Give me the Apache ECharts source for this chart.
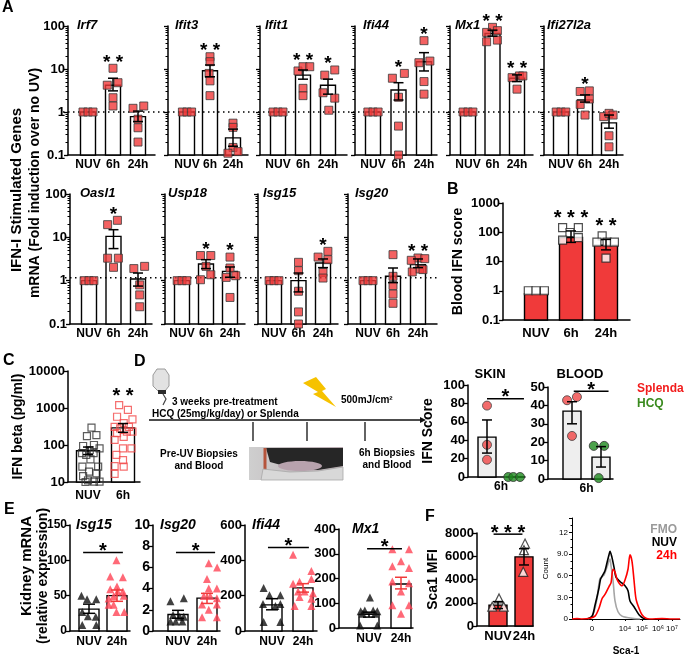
<!DOCTYPE html>
<html>
<head>
<meta charset="utf-8">
<script src="https://cdn.jsdelivr.net/npm/echarts@6/dist/echarts.min.js"></script>
<style>
  html, body { margin: 0; padding: 0; background: #fff; }
  #c { width: 685px; height: 657px; }
</style>
</head>
<body>
<div id="c"></div>
<script>
// ---------- data ----------
// A: ISG fold induction (log), groups NUV / 6h / 24h
const aGenes = ['Irf7', 'Ifit3', 'Ifit1', 'Ifi44', 'Mx1', 'Ifi27l2a', 'Oasl1', 'Usp18', 'Isg15', 'Isg20'];
const aGroups = ['NUV', '6h', '24h'];
const aMeans = [[1, 4.2, 0.78], [1, 9.1, 0.25], [1, 7.2, 4.2], [1, 3.25, 14.8], [1, 67, 6.1],
                [1, 1.9, 0.56], [1, 10.5, 1.09], [1, 2.43, 1.64], [1, 1.0, 2.56], [1, 1.26, 2.34]];
const aErr = [
  [[1, 1], [3.1, 6.1], [0.6, 1.05]], [[1, 1], [6.6, 12.4], [0.16, 0.4]], [[1, 1], [5.8, 9.5], [2.6, 5.8]],
  [[1, 1], [1.9, 4.8], [9, 24]], [[1, 1], [58, 80], [5.1, 7.3]], [[1, 1], [1.7, 2.5], [0.42, 0.85]],
  [[1, 1], [5.5, 15], [0.75, 1.5]], [[1, 1], [1.9, 3.05], [1.2, 2.07]], [[1, 1], [0.55, 1.5], [2.0, 3.17]],
  [[1, 1], [0.9, 1.96], [2.0, 3.17]]
];
const aNuvPts = [[-0.2, 1], [0, 1], [0.2, 1]];
// [x offset, value] per animal, for 6h and 24h
const a6hPts = [
  [[0, 10.4], [-0.23, 4.2], [0.2, 4.8], [0, 2.15], [0, 1.38]],
  [[0, 19.3], [0, 14.8], [-0.04, 7.9], [0, 5.3], [0, 2.4]],
  [[-0.2, 9], [0, 11.3], [0.27, 11.3], [0, 3.55], [0, 2.4]],
  [[-0.24, 6.1], [0.23, 7.9], [0, 2.2], [0, 0.47], [0, 0.1]],
  [[0, 93], [-0.24, 71], [0.2, 78], [-0.24, 43], [0.2, 47]],
  [[-0.2, 3.0], [0.18, 3.1], [-0.2, 1.5], [0.18, 2.0], [0, 0.85]],
  [[0.16, 24.7], [-0.24, 19.6], [-0.24, 3.3], [0.2, 3.3], [0, 2.03]],
  [[-0.23, 3.8], [0.2, 3.8], [0, 2.14], [-0.23, 1.05], [0.2, 1.37]],
  [[0, 2.65], [0, 1.7], [0, 0.57], [0, 0.19], [0, 0.1]],
  [[0, 3.98], [0, 1.26], [0, 0.77], [0, 0.49], [0, 0.3]]
];
const a24hPts = [
  [[-0.2, 1.22], [0.23, 1.38], [0, 0.68], [0, 0.43], [0, 0.2]],
  [[0, 0.55], [0, 0.44], [0, 0.15], [-0.22, 0.11], [0.22, 0.12]],
  [[-0.13, 7.2], [0.27, 9.5], [-0.2, 2.8], [0.27, 2.1], [0.03, 1.1]],
  [[0, 45.6], [-0.2, 14], [0.23, 15.3], [0, 5.1], [0, 2.6]],
  [[-0.2, 6.3], [0.1, 6.9], [0.24, 6.9], [0, 3.4]],
  [[-0.22, 0.78], [0, 0.93], [0.17, 0.85], [0, 0.28], [0, 0.155]],
  [[-0.17, 1.9], [0.27, 2.14], [0.07, 0.8], [0.07, 0.47], [0.07, 0.25]],
  [[0, 3.5], [0, 1.96], [-0.16, 1.19], [0.24, 1.3], [0, 0.41]],
  [[-0.2, 3.5], [0.2, 4.75], [0.2, 3.05], [0, 1.55], [0, 1.15]],
  [[0, 3.34], [0.27, 3.22], [-0.27, 2.95], [0.07, 1.86], [-0.23, 1.59], [0.2, 1.8]]
];
const aStars = [['', '* *', ''], ['', '* *', ''], ['', '* *', '*'], ['', '*', '*'], ['', '* *', '* *'],
                ['', '*', ''], ['', '*', ''], ['', '*', '*'], ['', '', '*'], ['', '', '* *']];
const aRefLines = [1, 1.17];   // dotted baseline per row

// B: blood IFN score
const bMeans = [0.8, 66, 36];
const bErr = [[0.8, 0.8], [45, 111], [25, 57]];
const bPts = [
  [[-0.22, 1], [0, 1], [0.24, 1]],
  [[-0.24, 145], [-0.03, 98], [0.21, 145], [-0.24, 54], [0.21, 66]],
  [[-0.11, 75], [-0.26, 46], [0.03, 46], [0.24, 46], [0, 13]]
];
const bStars = ['', '* * *', '* *'];

// C: IFN beta (pg/ml)
const cGroups = ['NUV', '6h'];
const cMeans = [70, 290];
const cErr = [[55, 88], [220, 380]];
const cNuvPts = [[0.1, 295], [-0.03, 174], [0.24, 186], [-0.14, 94], [0.17, 100], [0.05, 73], [0.33, 81],
  [-0.17, 60], [-0.05, 54], [0.16, 60], [0.07, 41], [-0.16, 26], [0.29, 26], [0.03, 19], [0.24, 17],
  [-0.14, 14.5], [0, 11], [0.17, 10.2], [0.33, 10.2], [-0.07, 10]];
const c6hPts = [[-0.11, 1200], [0.14, 890], [-0.17, 580], [0.27, 490], [0.02, 390], [-0.24, 310], [0.17, 310],
  [-0.08, 280], [0.11, 230], [-0.17, 210], [0.27, 230], [0.02, 166], [-0.24, 137], [0, 81], [0.24, 81],
  [-0.19, 54], [0, 39], [-0.24, 27], [0.02, 26], [-0.24, 16.5]];

// D: IFN score, Splenda vs HCQ at 6h
const dGroups = ['Splenda', 'HCQ'];
const dSkinMeans = [43.3, 0];
const dSkinErr = [[26, 62], [0, 0]];
const dSkinPts = [[[0, 77.6], [0, 35], [0, 18.8]], [[-0.24, 0], [-0.06, 0], [0.18, 0]]];
const dBloodMeans = [36.9, 11.9];
const dBloodErr = [[30, 42], [6.5, 17.6]];
const dBloodPts = [[[-0.17, 42.8], [0.17, 44.6], [0, 23.4]], [[-0.25, 18], [0.11, 18], [-0.08, 0.5]]];
const dSig = [[1, 2.32, 85], [1.06, 2.26, 47.7]];

// E: kidney mRNA
const eGenes = ['Isg15', 'Isg20', 'Ifi44', 'Mx1'];
const eGroups = ['NUV', '24h'];
const eMeans = [[31, 50], [1.55, 3.1], [148, 244], [55, 178]];
const eErr = [[[25, 38], [42, 58]], [[1.2, 1.95], [2.6, 3.55]], [[120, 183], [220, 268]], [[44, 64], [158, 205]]];
const eNuvPts = [
  [[-0.27, 50], [-0.07, 45], [0.26, 45], [-0.24, 27], [-0.04, 21], [0.24, 20], [-0.24, 8.5], [0.26, 8.5]],
  [[-0.26, 2.8], [0.2, 3.1], [-0.17, 1.5], [0.06, 1.35], [0.2, 1.35], [-0.26, 0.9], [-0.08, 0.9], [0.15, 0.9]],
  [[-0.27, 244], [-0.08, 203], [0.27, 203], [-0.29, 153], [0.11, 142], [0.27, 153], [-0.27, 51], [0.27, 51]],
  [[0.03, 123], [-0.26, 68], [-0.13, 71], [0.13, 71], [0.26, 68], [-0.2, 58], [0.19, 58], [-0.28, 10], [0.26, 10]]
];
const e24hPts = [
  [[-0.02, 100], [-0.24, 77], [0.21, 76], [-0.24, 59], [0, 63], [0.02, 56], [0.21, 56], [-0.3, 46], [-0.12, 49],
   [0.24, 50], [-0.3, 37], [-0.12, 37], [-0.02, 27], [0.26, 27]],
  [[0.06, 6.4], [0.35, 6.0], [0, 4.9], [0.34, 4.0], [0.06, 4.0], [-0.11, 3.3], [0.11, 3.3], [0.34, 3.1],
   [-0.17, 2.5], [0.34, 2.5], [-0.17, 1.3], [0.34, 1.3], [0.06, 2.0]],
  [[-0.32, 431], [0.27, 340], [-0.32, 268], [-0.11, 279], [0.27, 295], [-0.16, 224], [0.05, 224], [0.32, 214],
   [-0.11, 193], [0.27, 183], [-0.27, 142], [0.27, 142]],
  [[-0.27, 318], [0.25, 318], [0, 270], [-0.27, 249], [0.25, 242], [-0.27, 188], [0.25, 181], [0, 147],
   [-0.27, 92], [0.25, 92], [0, 58]]
];
const eSig = [[0.79, 2.21, 111], [0.93, 2.28, 7.4], [0.87, 2.19, 472], [0.94, 2.03, 320]];
const eTicks = [[0, 150, 50], [0, 10, 2], [0, 600, 200], [0, 400, 100]];

// F: Sca1 MFI and histogram
const fMeans = [1800, 5950];
const fErr = [[1500, 2100], [5250, 6650]];
const fPts = [[[0.04, 2370], [-0.22, 1660], [0.22, 1660]], [[0.04, 7090], [0, 6520], [-0.03, 4660]]];
const fSig = [0.83, 1.94, 7900];
const histTickPos = [20, 53, 70, 86, 100];
const histTickLabels = ['0', '10⁴', '10⁵', '10⁶', '10⁷'];
const histFMO = [[16, 0], [20, 0.4], [22, 1.0], [25, 2.8], [28, 5.6], [32, 6.1], [35, 7.2], [38, 8.3], [39, 7.4],
  [41, 5.4], [43, 2.5], [46, 1.0], [50, 0.4], [55, 0.2], [62, 0.05], [68, 0]];
const histNUV = [[15, 0], [20, 0.35], [23, 1.9], [27, 4.3], [28.5, 5.5], [30, 5.9], [33, 6.7], [35, 7.8],
  [37, 8.9], [38, 9.4], [40, 8.5], [42, 7.2], [44, 5.8], [48, 5.2], [53, 4.6], [56, 3.9], [58, 2.5],
  [62, 1.7], [67, 0.6], [72, 0.05], [75, 0]];
const hist24h = [[0, 0], [5, 0.05], [10, 0], [18, 0.1], [23, 0.4], [27, 1.5], [30, 2.8], [33, 3.4], [37, 4.5],
  [39, 5.0], [41, 6.9], [43, 6.5], [45, 5.5], [47, 5.0], [50, 4.6], [53, 5.4], [56, 6.9], [58, 8.9], [60, 8.0],
  [62, 5.4], [64, 2.8], [67, 1.5], [70, 0.6], [74, 0.1], [78, 0], [90, 0.05], [100, 0], [108, 0]];

// ---------- helpers ----------
const FONT = '"Liberation Sans", Arial, Helvetica, sans-serif';
const RED = '#f03a3a';
const grids = [], xAxes = [], yAxes = [], series = [], graphics = [];

function addPanel(o) {
  const gi = grids.length;
  grids.push({ left: o.left, top: o.top, width: o.right - o.left, height: o.bottom - o.top });
  const xMin = 1 - (o.c1 - o.left) / o.sp;
  const xMax = xMin + (o.right - o.left) / o.sp;
  xAxes.push({
    gridIndex: gi, type: 'value', min: xMin, max: xMax,
    axisLine: { onZero: false, lineStyle: { color: '#000', width: 1.5 } },
    axisTick: { show: false }, splitLine: { show: false },
    axisLabel: {
      customValues: o.labelPos,
      formatter: v => o.labels[o.labelPos.findIndex(p => Math.abs(p - v) < 1e-6)] || '',
      color: '#000', fontFamily: FONT, fontWeight: 'bold', fontSize: o.xFont || 12, margin: o.xMargin || 4
    }
  });
  const y = {
    gridIndex: gi, type: o.log ? 'log' : 'value', min: o.yMin, max: o.yMax,
    axisLine: { show: true, onZero: false, lineStyle: { color: '#000', width: 1.5 } },
    axisTick: { show: true, length: 4, lineStyle: { color: '#000', width: 1.3 } },
    minorTick: { show: !!o.minor, splitNumber: o.minor || 5, length: 2.5, lineStyle: { color: '#000' } },
    splitLine: { show: false },
    axisLabel: {
      show: o.yLabels !== false, color: '#000', fontFamily: FONT, fontWeight: 'bold',
      fontSize: o.yFont || 12, margin: 3, formatter: v => String(+v.toPrecision(6))
    }
  };
  if (o.log) y.logBase = 10; else y.interval = o.yInt;
  if (o.yName) {
    y.name = o.yName; y.nameLocation = 'middle'; y.nameGap = o.nameGap;
    y.nameTextStyle = { color: '#000', fontFamily: FONT, fontWeight: 'bold', fontSize: o.nameSize || 13 };
  }
  yAxes.push(y);
  return gi;
}

function bars(gi, data, base, width, fill, stroke) {
  return {
    type: 'custom', xAxisIndex: gi, yAxisIndex: gi, z: 2, silent: true, data,
    renderItem: (p, api) => {
      const a = api.coord([api.value(0), api.value(1)]);
      const b = api.coord([api.value(0), base]);
      return { type: 'rect', shape: { x: a[0] - width / 2, y: a[1], width, height: b[1] - a[1] },
               style: { fill, stroke: stroke || '#000', lineWidth: 1.4 } };
    }
  };
}

function errBars(gi, data, color, cap) {
  return {
    type: 'custom', xAxisIndex: gi, yAxisIndex: gi, z: 6, silent: true,
    data: data.filter(d => d[1] !== d[2]),
    renderItem: (p, api) => {
      const x = api.value(0);
      const lo = api.coord([x, api.value(1)]), hi = api.coord([x, api.value(2)]);
      const h = cap / 2, st = { stroke: color, lineWidth: 1.5 };
      return { type: 'group', children: [
        { type: 'line', shape: { x1: lo[0], y1: lo[1], x2: hi[0], y2: hi[1] }, style: st },
        { type: 'line', shape: { x1: hi[0] - h, y1: hi[1], x2: hi[0] + h, y2: hi[1] }, style: st },
        { type: 'line', shape: { x1: lo[0] - h, y1: lo[1], x2: lo[0] + h, y2: lo[1] }, style: st }
      ] };
    }
  };
}

function points(gi, x, pts, symbol, size, style) {
  return {
    type: 'scatter', xAxisIndex: gi, yAxisIndex: gi, z: 5, silent: true, clip: false,
    symbol, symbolSize: size, itemStyle: style, data: pts.map(p => [x + p[0], p[1]])
  };
}

// star labels at [x, value], text shifted up by dy pixels
function stars(gi, items, size, dy) {
  return {
    type: 'custom', xAxisIndex: gi, yAxisIndex: gi, z: 7, silent: true,
    data: items.map(d => [d[0], d[1]]),
    renderItem: (p, api) => {
      const c = api.coord([api.value(0), api.value(1)]);
      return { type: 'text', x: c[0], y: c[1] - dy,
               style: { text: items[p.dataIndex][2], font: `bold ${size}px ${FONT}`, fill: '#000',
                        align: 'center', verticalAlign: 'middle' } };
    }
  };
}

// significance bar from x1 to x2 at value v
function sigBar(gi, sig, text, size) {
  return {
    type: 'custom', xAxisIndex: gi, yAxisIndex: gi, z: 7, silent: true,
    data: [[sig[0], sig[2], sig[1]]],
    renderItem: (p, api) => {
      const a = api.coord([api.value(0), api.value(1)]), b = api.coord([api.value(2), api.value(1)]);
      return { type: 'group', children: [
        { type: 'line', shape: { x1: a[0], y1: a[1], x2: b[0], y2: b[1] }, style: { stroke: '#000', lineWidth: 1.5 } },
        { type: 'text', x: (a[0] + b[0]) / 2, y: a[1] - 1,
          style: { text, font: `bold ${size}px ${FONT}`, fill: '#000', align: 'center', verticalAlign: 'middle' } }
      ] };
    }
  };
}

// dotted baseline spanning a whole row of panels (pixel extent, value through the axis)
function refLine(gi, val, x0, x1) {
  return {
    type: 'custom', xAxisIndex: gi, yAxisIndex: gi, z: 3, silent: true, data: [[1, val]],
    renderItem: (p, api) => {
      const y = api.coord([1, api.value(1)])[1];
      return { type: 'line', shape: { x1: x0, y1: y, x2: x1, y2: y },
               style: { stroke: '#000', lineWidth: 1.6, lineDash: [1.5, 3.5] } };
    }
  };
}

function txt(x, y, text, font, opts) {
  const o = opts || {};
  return { type: 'text', x, y, rotation: o.rot || 0, z: 10, silent: true,
    style: { text, font: font + ' ' + FONT, fill: o.color || '#000',
             align: o.align || 'left', verticalAlign: o.va || 'middle',
             textAlign: o.align || 'left', textVerticalAlign: o.va || 'middle' } };
}

// ---------- panel A ----------
const aLayout = [
  { left: 68, right: 155, c1: 88, sp: 25, top: 26, bottom: 155, tx: 77 },
  { left: 168, right: 248, c1: 187, sp: 23, top: 26, bottom: 155, tx: 175 },
  { left: 260, right: 347, c1: 278, sp: 25, top: 26, bottom: 155, tx: 265 },
  { left: 355, right: 437, c1: 373, sp: 25.5, top: 26, bottom: 155, tx: 363 },
  { left: 450, right: 533, c1: 468, sp: 24.5, top: 26, bottom: 155, tx: 455 },
  { left: 544, right: 623, c1: 561, sp: 24, top: 26, bottom: 155, tx: 547 },
  { left: 70, right: 152, c1: 89, sp: 24.5, top: 194, bottom: 324, tx: 80 },
  { left: 165, right: 245, c1: 182, sp: 24, top: 194, bottom: 324, tx: 168 },
  { left: 258, right: 338, c1: 274, sp: 24.5, top: 194, bottom: 324, tx: 263 },
  { left: 348, right: 437, c1: 368, sp: 25, top: 194, bottom: 324, tx: 355 }
];
const aSq = { color: RED, borderColor: '#3a3a3a', borderWidth: 1 };
aGenes.forEach((g, i) => {
  const L = aLayout[i];
  const gi = addPanel(Object.assign({}, L, {
    log: true, yMin: 0.1, yMax: 100, minor: 9, yLabels: (i === 0 || i === 6), yFont: 13,
    labelPos: [1, 2, 3], labels: aGroups, xMargin: 4, xFont: 12
  }));
  series.push(bars(gi, aMeans[i].map((m, k) => [k + 1, m]), 0.1, 15, '#fff'));
  series.push(errBars(gi, aErr[i].map((e, k) => [k + 1, e[0], e[1]]), '#000', 10));
  [aNuvPts, a6hPts[i], a24hPts[i]].forEach((pts, k) => series.push(points(gi, k + 1, pts, 'rect', 8, aSq)));
  const tops = [aNuvPts, a6hPts[i], a24hPts[i]].map((pts, k) => Math.max(aErr[i][k][1], ...pts.map(p => p[1])));
  series.push(stars(gi, aStars[i].map((s, k) => [k + 1, tops[k], s]), 19, 6));
  graphics.push(txt(L.tx, L.top - 1, g, 'italic bold 13px'));
});
series.push(refLine(0, aRefLines[0], 63, 623));
series.push(refLine(6, aRefLines[1], 65, 437));
graphics.push(txt(2, 8, 'A', 'bold 16px'));
graphics.push(txt(17, 190, 'IFN-I Stimulated Genes', 'bold 15px', { rot: Math.PI / 2, align: 'center' }));
graphics.push(txt(35, 183, 'mRNA (Fold induction over no UV)', 'bold 14px', { rot: Math.PI / 2, align: 'center' }));

// ---------- panel B ----------
{
  const gi = addPanel({ left: 503, right: 630, c1: 536, sp: 35, top: 203, bottom: 320, log: true, yMin: 0.1, yMax: 1000,
    yFont: 13, labelPos: [1, 2, 3], labels: aGroups, xMargin: 7, xFont: 13,
    yName: 'Blood IFN score', nameGap: 38, nameSize: 14 });
  series.push(bars(gi, bMeans.map((m, k) => [k + 1, m]), 0.1, 23, RED));
  series.push(errBars(gi, bErr.map((e, k) => [k + 1, e[0], e[1]]), '#000', 10));
  bPts.forEach((pts, k) => series.push(points(gi, k + 1, pts, 'rect', 8, { color: '#fff', borderColor: '#222', borderWidth: 1.2 })));
  const tops = bPts.map((pts, k) => Math.max(bErr[k][1], ...pts.map(p => p[1])));
  series.push(stars(gi, bStars.map((s, k) => [k + 1, tops[k], s]), 20, 9));
  graphics.push(txt(447, 190, 'B', 'bold 16px'));
}

// ---------- panel C ----------
{
  const gi = addPanel({ left: 68, right: 140, c1: 88, sp: 35, top: 371, bottom: 482, log: true, yMin: 10, yMax: 10000,
    yFont: 13, labelPos: [1, 2], labels: cGroups, xMargin: 8, xFont: 12,
    yName: 'IFN beta (pg/ml)', nameGap: 40, nameSize: 14 });
  series.push(bars(gi, cMeans.map((m, k) => [k + 1, m]), 10, 23, '#fff'));
  series.push(points(gi, 1, cNuvPts, 'rect', 7, { color: 'rgba(255,255,255,0)', borderColor: '#333', borderWidth: 1.2 }));
  series.push(points(gi, 2, c6hPts, 'rect', 7, { color: 'rgba(255,255,255,0)', borderColor: '#f24a4a', borderWidth: 1.2 }));
  series.push(errBars(gi, cErr.map((e, k) => [k + 1, e[0], e[1]]), '#000', 10));
  series.push(stars(gi, [[2, 1200, '* *']], 20, 9));
  graphics.push(txt(3, 361, 'C', 'bold 16px'));
}

// ---------- panel D ----------
{
  const skin = addPanel({ left: 468, right: 525, c1: 487, sp: 28, top: 385, bottom: 477, yMin: 0, yMax: 100, yInt: 20,
    yFont: 13, labelPos: [1.5], labels: ['6h'], xMargin: 4, xFont: 12,
    yName: 'IFN Score', nameGap: 33, nameSize: 14 });
  series.push(bars(skin, dSkinMeans.map((m, k) => [k + 1, m]), 0, 18, '#eeeeee'));
  series.push(errBars(skin, dSkinErr.map((e, k) => [k + 1, e[0], e[1]]), '#000', 10));
  series.push(points(skin, 1, dSkinPts[0], 'circle', 9, { color: '#f04646', borderColor: '#444', borderWidth: 1 }));
  series.push(points(skin, 2, dSkinPts[1], 'circle', 9, { color: '#1e8a1e', borderColor: '#333', borderWidth: 1 }));
  series.push(sigBar(skin, dSig[0], '*', 20));

  const blood = addPanel({ left: 548, right: 613, c1: 572, sp: 29, top: 387, bottom: 479, yMin: 0, yMax: 50, yInt: 10,
    yFont: 13, labelPos: [1.5], labels: ['6h'], xMargin: 4, xFont: 12 });
  series.push(bars(blood, dBloodMeans.map((m, k) => [k + 1, m]), 0, 18, '#eeeeee'));
  series.push(errBars(blood, dBloodErr.map((e, k) => [k + 1, e[0], e[1]]), '#000', 10));
  series.push(points(blood, 1, dBloodPts[0], 'circle', 9, { color: '#f04646', borderColor: '#444', borderWidth: 1 }));
  series.push(points(blood, 2, dBloodPts[1], 'circle', 9, { color: '#1e8a1e', borderColor: '#333', borderWidth: 1 }));
  series.push(sigBar(blood, dSig[1], '*', 20));

  graphics.push(txt(490, 374, 'SKIN', 'bold 13px', { align: 'center' }));
  graphics.push(txt(580, 374, 'BLOOD', 'bold 13px', { align: 'center' }));
  graphics.push(txt(637, 389, dGroups[0], 'bold 12px', { color: '#f21c1c' }));
  graphics.push(txt(637, 404, dGroups[1], 'bold 12px', { color: '#3a8a1e' }));
  graphics.push(txt(134, 362, 'D', 'bold 16px'));

  // schematic: bottle, timeline, UV bolt, photo
  graphics.push({ type: 'polygon', z: 9, silent: true,
    shape: { points: [[153, 375], [157, 369], [165, 369], [169, 375], [169, 386], [165, 391], [158, 391], [153, 386]] },
    style: { fill: '#e2e2e2', stroke: '#9a9a9a', lineWidth: 1 } });
  graphics.push({ type: 'rect', z: 9, silent: true, shape: { x: 158, y: 390, width: 8, height: 4 }, style: { fill: '#2b2b2b' } });
  graphics.push({ type: 'polyline', z: 9, silent: true, shape: { points: [[163, 394], [166, 399], [163, 405]] },
    style: { stroke: '#444', lineWidth: 1.2, fill: null } });
  graphics.push(txt(172, 402, '3 weeks pre-treatment', 'bold 10px'));
  graphics.push(txt(152, 414, 'HCQ (25mg/kg/day) or Splenda', 'bold 10px'));
  graphics.push(txt(341, 400, '500mJ/cm²', 'bold 10px'));
  graphics.push({ type: 'line', z: 9, silent: true, shape: { x1: 149, y1: 420, x2: 420, y2: 420 }, style: { stroke: '#111', lineWidth: 1.4 } });
  graphics.push({ type: 'polygon', z: 9, silent: true, shape: { points: [[420, 417], [426, 420], [420, 423]] }, style: { fill: '#111' } });
  [253, 307, 365].forEach(x => graphics.push({ type: 'line', z: 9, silent: true,
    shape: { x1: x, y1: 422, x2: x, y2: 441 }, style: { stroke: '#222', lineWidth: 1.4 } }));
  graphics.push({ type: 'polygon', z: 9, silent: true,
    shape: { points: [[303, 383], [316, 377], [326, 389], [322, 391], [336, 407], [313, 394], [318, 392]] },
    style: { fill: '#f6c200' } });
  graphics.push(txt(199, 454, 'Pre-UV Biopsies', 'bold 10px', { align: 'center' }));
  graphics.push(txt(199, 466, 'and Blood', 'bold 10px', { align: 'center' }));
  graphics.push(txt(387, 453, '6h Biopsies', 'bold 10px', { align: 'center' }));
  graphics.push(txt(387, 465, 'and Blood', 'bold 10px', { align: 'center' }));
  graphics.push({ type: 'group', z: 9, silent: true, children: [
    { type: 'rect', shape: { x: 249, y: 447, width: 94, height: 33 },
      style: { fill: new echarts.graphic.LinearGradient(0, 0, 1, 0, [{ offset: 0, color: '#cfcfcf' }, { offset: 1, color: '#b9aab0' }]) } },
    { type: 'polygon', shape: { points: [[266, 448], [343, 448], [343, 466], [318, 470], [292, 468], [270, 462]] }, style: { fill: '#262626' } },
    { type: 'ellipse', shape: { cx: 300, cy: 466, rx: 22, ry: 5 }, style: { fill: '#b7a2ad' } },
    { type: 'line', shape: { x1: 265, y1: 448, x2: 265, y2: 472 }, style: { stroke: '#b5543c', lineWidth: 3 } },
    { type: 'polygon', shape: { points: [[261, 480], [263, 469], [290, 472], [318, 471], [343, 467], [343, 480]] },
      style: { fill: '#d8d8d8', stroke: '#a8a8a8', lineWidth: 0.8 } }
  ] });
}

// ---------- panel E ----------
const eLayout = [
  { left: 70, right: 130, c1: 89, sp: 28, top: 525, bottom: 631, tx: 76, yFont: 12 },
  { left: 153, right: 220, c1: 178, sp: 29, top: 525, bottom: 631, tx: 160, yFont: 14 },
  { left: 245, right: 317, c1: 272, sp: 31, top: 525, bottom: 631, tx: 252, yFont: 13 },
  { left: 339, right: 413, c1: 369, sp: 32, top: 529, bottom: 628, tx: 352, yFont: 13 }
];
eGenes.forEach((g, i) => {
  const L = eLayout[i];
  const gi = addPanel(Object.assign({}, L, { yMin: eTicks[i][0], yMax: eTicks[i][1], yInt: eTicks[i][2],
    labelPos: [1, 2], labels: eGroups, xMargin: 5, xFont: 12 }));
  series.push(bars(gi, eMeans[i].map((m, k) => [k + 1, m]), 0, 20, '#fff'));
  series.push(points(gi, 1, eNuvPts[i], 'triangle', 8, { color: '#111' }));
  series.push(points(gi, 2, e24hPts[i], 'triangle', 8, { color: '#ff4455' }));
  series.push(errBars(gi, [[1, eErr[i][0][0], eErr[i][0][1]]], '#000', 12));
  series.push(errBars(gi, [[2, eErr[i][1][0], eErr[i][1][1]]], '#f03a3a', 12));
  series.push(sigBar(gi, eSig[i], '*', 20));
  graphics.push(txt(L.tx, L.top, g, 'italic bold 14px'));
});
graphics.push(txt(4, 510, 'E', 'bold 16px'));
graphics.push(txt(27, 566, 'Kidney mRNA', 'bold 15px', { rot: Math.PI / 2, align: 'center' }));
graphics.push(txt(43, 576, '(relative expression)', 'bold 14px', { rot: Math.PI / 2, align: 'center' }));

// ---------- panel F ----------
{
  const gi = addPanel({ left: 477, right: 533, c1: 498, sp: 26, top: 533, bottom: 626, yMin: 0, yMax: 8000, yInt: 2000,
    yFont: 13, labelPos: [1, 2], labels: eGroups, xMargin: 4, xFont: 13,
    yName: 'Sca1 MFI', nameGap: 37, nameSize: 14 });
  series.push(bars(gi, fMeans.map((m, k) => [k + 1, m]), 0, 18, RED));
  series.push(errBars(gi, fErr.map((e, k) => [k + 1, e[0], e[1]]), '#000', 10));
  fPts.forEach((pts, k) => series.push(points(gi, k + 1, pts, 'triangle', 9, { color: '#fff', borderColor: '#222', borderWidth: 1.2 })));
  series.push(sigBar(gi, fSig, '* * *', 20));
  graphics.push(txt(425, 517, 'F', 'bold 16px'));

  // flow histogram
  const hi = grids.length;
  grids.push({ left: 572, top: 518, width: 108, height: 106 });
  xAxes.push({ gridIndex: hi, type: 'value', min: 0, max: 108,
    axisLine: { onZero: false, lineStyle: { color: '#000', width: 1 } },
    axisTick: { customValues: histTickPos, length: 2, lineStyle: { color: '#000' } }, splitLine: { show: false },
    axisLabel: { customValues: histTickPos, formatter: v => histTickLabels[histTickPos.indexOf(v)] || '',
      color: '#000', fontFamily: FONT, fontSize: 8, margin: 6 },
    name: 'Sca-1', nameLocation: 'middle', nameGap: 27,
    nameTextStyle: { color: '#000', fontFamily: FONT, fontWeight: 'bold', fontSize: 10 } });
  yAxes.push({ gridIndex: hi, type: 'value', min: 0, max: 14, interval: 3,
    axisLine: { show: true, onZero: false, lineStyle: { color: '#000', width: 1 } },
    axisTick: { show: true, length: 3, lineStyle: { color: '#000' } },
    minorTick: { show: true, splitNumber: 3, length: 1.5, lineStyle: { color: '#000' } },
    splitLine: { show: false },
    axisLabel: { formatter: v => (v === 0 ? '0' : v === 12 ? '12' : v > 12 ? '' : v.toFixed(1)),
      color: '#000', fontFamily: FONT, fontSize: 8, margin: 4 },
    name: 'Count', nameLocation: 'middle', nameGap: 22,
    nameTextStyle: { color: '#000', fontFamily: FONT, fontSize: 8 } });
  [[histFMO, '#a6a6a6'], [histNUV, '#000'], [hist24h, '#ff0000']].forEach(([d, c]) => series.push({
    type: 'line', xAxisIndex: hi, yAxisIndex: hi, data: d, showSymbol: false, smooth: 0.3, silent: true,
    lineStyle: { color: c, width: 1.6 }, z: 3 }));
  graphics.push(txt(677, 530, 'FMO', 'bold 12px', { align: 'right', color: '#9a9a9a' }));
  graphics.push(txt(677, 543, 'NUV', 'bold 12px', { align: 'right' }));
  graphics.push(txt(677, 556, '24h', 'bold 12px', { align: 'right', color: '#ff0000' }));
}

const chart = echarts.init(document.getElementById('c'));
chart.setOption({
  animation: false,
  backgroundColor: '#fff',
  grid: grids, xAxis: xAxes, yAxis: yAxes, series,
  graphic: { elements: graphics }
});
</script>
</body>
</html>
